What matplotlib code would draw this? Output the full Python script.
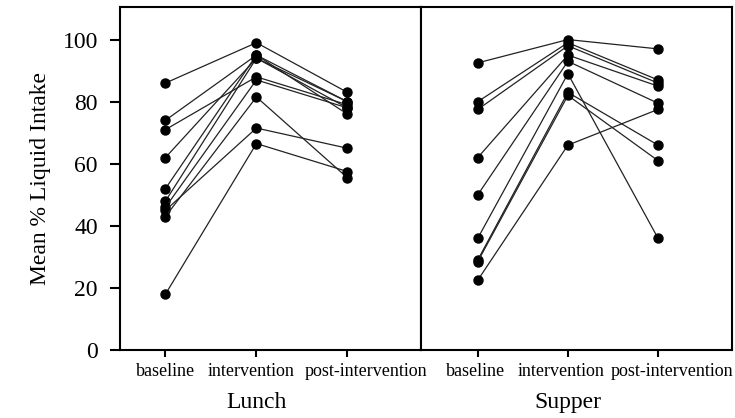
import matplotlib.pyplot as plt

phases = ['baseline', 'intervention', 'post-intervention']

# one row per resident: baseline, intervention, post-intervention
lunch = [
    [86, 99, 83],
    [74, 95, 80],
    [71, 88, 79],
    [62, 94, 78],
    [52, 95, 76],
    [48, 94, 80],
    [46, 87, 78],
    [45, 71.5, 65],
    [43, 81.5, 55.5],
    [18, 66.5, 57.5],
]
supper = [
    [92.5, 100, 97],
    [80, 99, 87],
    [77.5, 98, 86],
    [62, 95, 85],
    [50, 93, 79.5],
    [36, 89, 36],
    [29, 83, 66],
    [28.5, 82, 61],
    [22.5, 66, 77.5],
]

plt.rcParams['font.family'] = ['Liberation Serif', 'DejaVu Serif']

fig = plt.figure(figsize=(7.35, 4.18), dpi=100)
ax1 = fig.add_axes([0.1633, 0.1627, 0.4095, 0.8206])
ax2 = fig.add_axes([0.5728, 0.1627, 0.423, 0.8206])

x = [1, 2, 3]
# labels in the original sit slightly off their ticks (pixels)
panels = [(ax1, lunch, 'Lunch', (0.5, 3.81), [0, -5, 19]),
          (ax2, supper, 'Supper', (0.37, 3.82), [-2, -7, 14])]
for ax, data, name, xl, shifts in panels:
    for row in data:
        ax.plot(x, row, color='#222222', lw=0.9, marker='o', ms=6.5,
                mfc='black', mec='black', clip_on=False)
    ax.set_xlim(*xl)
    ax.set_ylim(0, 110.5)
    ax.set_xticks(x)
    ax.set_xticklabels([])
    for xi, lab, dx in zip(x, phases, shifts):
        ax.annotate(lab, xy=(xi, 0), xycoords=('data', 'axes fraction'),
                    xytext=(dx, -22), textcoords='offset pixels',
                    ha='center', va='center', fontsize=13, annotation_clip=False)
    ax.annotate(name, xy=(2, 0), xycoords=('data', 'axes fraction'),
                xytext=(0, -53), textcoords='offset pixels',
                ha='center', va='center', fontsize=17, annotation_clip=False)
    for s in ax.spines.values():
        s.set_linewidth(1.5)
    ax.tick_params(axis='x', direction='out', length=5, width=1.5)

ax1.set_yticks([0, 20, 40, 60, 80, 100])
ax1.tick_params(axis='y', direction='out', length=7, width=1.5, labelsize=17, pad=9)
ax1.set_ylabel('Mean % Liquid Intake', fontsize=17, labelpad=8)
ax2.set_yticks([])

fig.savefig('out.png', dpi=100)
